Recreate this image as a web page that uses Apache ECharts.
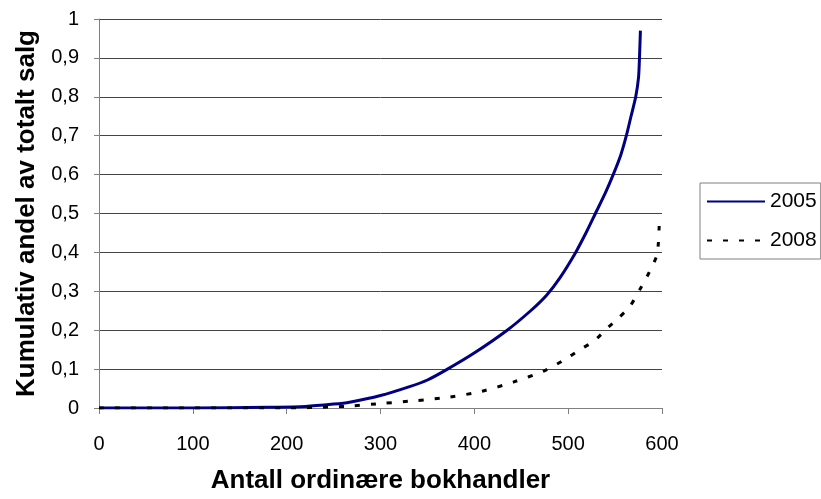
<!DOCTYPE html>
<html>
<head>
<meta charset="utf-8">
<script src="https://cdn.jsdelivr.net/npm/echarts@6/dist/echarts.min.js"></script>
<style>
  html, body { margin: 0; padding: 0; background: #fff; }
  #chart { width: 821px; height: 499px; }
</style>
</head>
<body>
<div id="chart"></div>
<script>
// values
var x2005 = [0, 100, 180, 220, 250, 267, 300, 331, 350, 370, 399, 435, 460, 477, 491, 508, 520, 529, 540, 548, 556, 562, 567, 572, 575, 576, 577];
var y2005 = [0, 0, 0.002, 0.004, 0.01, 0.015, 0.032, 0.055, 0.072, 0.098, 0.14, 0.2, 0.25, 0.29, 0.334, 0.4, 0.455, 0.5, 0.555, 0.6, 0.65, 0.7, 0.75, 0.8, 0.85, 0.9, 0.97];

var x2008 = [0, 200, 250, 267, 303, 338, 374, 408, 442, 474, 496, 512, 528, 542, 554, 566, 577, 586, 594, 596, 597];
var y2008 = [0, 0, 0.003, 0.005, 0.012, 0.019, 0.028, 0.043, 0.067, 0.095, 0.124, 0.149, 0.173, 0.206, 0.232, 0.262, 0.307, 0.347, 0.389, 0.42, 0.468];

var seriesNames = ['2005', '2008'];

function pairs(xs, ys) {
    var out = [];
    for (var i = 0; i < xs.length; i++) out.push([xs[i], ys[i]]);
    return out;
}

var font = 'Liberation Sans, Arial, sans-serif';

var chart = echarts.init(document.getElementById('chart'));
var option = {
    animation: false,
    backgroundColor: '#fff',
    textStyle: { fontFamily: font, color: '#000' },
    grid: { left: 99, right: 159, top: 19, bottom: 83 },
    legend: {
        orient: 'vertical',
        left: 700,
        top: 183,
        padding: [8, 4, 8, 6],
        itemGap: 18,
        itemWidth: 58,
        itemHeight: 20,
        borderColor: '#808080',
        borderWidth: 1,
        itemStyle: { opacity: 0 },
        textStyle: { fontSize: 21, fontFamily: font, color: '#000' },
        data: seriesNames
    },
    xAxis: {
        type: 'value',
        min: 0,
        max: 600,
        interval: 100,
        name: 'Antall ordinære bokhandler',
        nameLocation: 'middle',
        nameGap: 60,
        nameTextStyle: { fontSize: 26, fontWeight: 'bold', fontFamily: font, color: '#000' },
        axisLine: { lineStyle: { color: '#808080', width: 1 } },
        axisTick: { inside: false, length: 6, lineStyle: { color: '#808080' } },
        axisLabel: { fontSize: 20, margin: 26, color: '#000', fontFamily: font },
        splitLine: { show: false }
    },
    yAxis: {
        type: 'value',
        min: 0,
        max: 1,
        interval: 0.1,
        name: 'Kumulativ andel av totalt salg',
        nameLocation: 'middle',
        nameGap: 58,
        nameTextStyle: { fontSize: 26, fontWeight: 'bold', fontFamily: font, color: '#000' },
        axisLine: { show: true, lineStyle: { color: '#808080', width: 1 } },
        axisTick: { show: true, length: 5, lineStyle: { color: '#808080' } },
        axisLabel: {
            fontSize: 20, margin: 20, color: '#000', fontFamily: font,
            formatter: function (v) { return String(Math.round(v * 10) / 10).replace('.', ','); }
        },
        splitLine: { show: true, lineStyle: { color: '#444', width: 1 } }
    },
    series: [
        {
            name: '2005',
            type: 'line',
            data: pairs(x2005, y2005),
            symbol: 'none',
            smooth: 0.25,
            itemStyle: { color: '#000080' },
            lineStyle: { color: '#000080', width: 3 }
        },
        {
            name: '2008',
            type: 'line',
            data: pairs(x2008, y2008),
            symbol: 'none',
            smooth: 0.25,
            itemStyle: { color: '#000' },
            lineStyle: { color: '#000', width: 3, type: [5, 11] }
        }
    ]
};
chart.setOption(option);
</script>
</body>
</html>
